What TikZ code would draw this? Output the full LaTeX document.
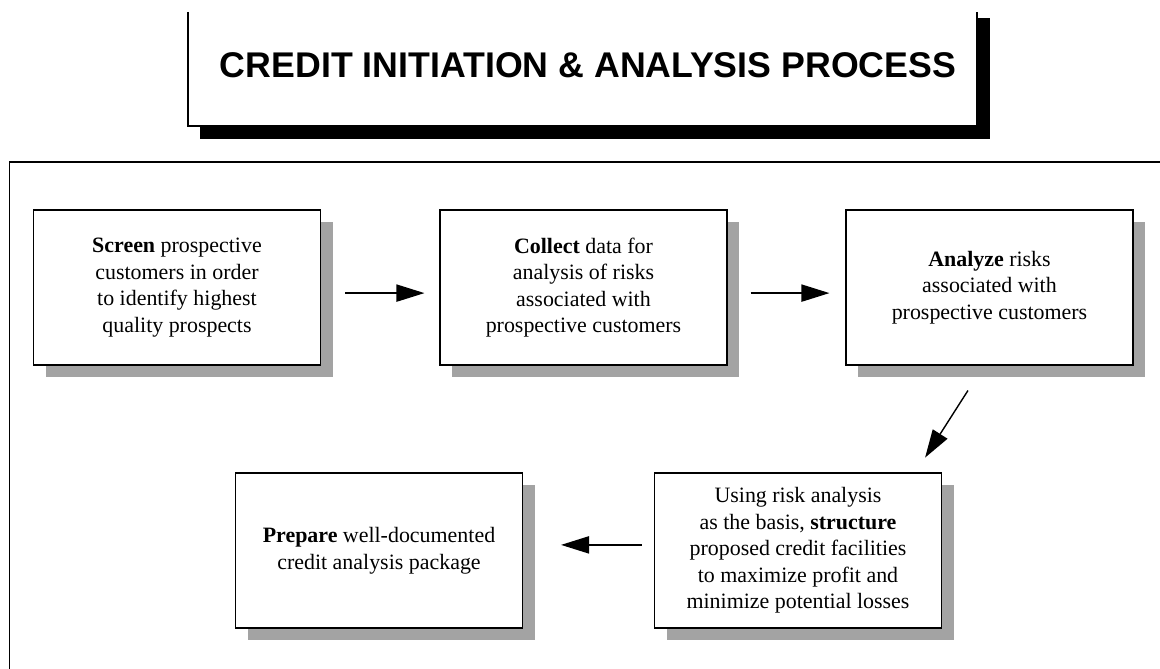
\documentclass[tikz,border=0pt]{standalone}
\usepackage{fontspec}
\setmainfont{Liberation Serif}
\newfontfamily\headfont{Liberation Sans}
\usetikzlibrary{arrows.meta,shadows}
\definecolor{shadowgray}{RGB}{163,163,163}

\begin{document}
\begin{tikzpicture}[
  procbox/.style={draw, line width=0.8pt, fill=white,
    minimum width=7.175cm, minimum height=3.875cm, align=center,
    font=\fontsize{15.6}{18.9}\selectfont,
    general shadow={fill=shadowgray, shadow xshift=0.3cm, shadow yshift=-0.3cm}},
  flow/.style={line width=1pt, -{Triangle[length=7mm,width=4.3mm]}}
]
\useasboundingbox (0,0) rectangle (29,16.7);

% frame round the steps
\draw[line width=1pt] (0.2375,-0.2) -- (0.2375,12.65) -- (29.2,12.65);

% title plate with its black shadow
\fill[black] (5.0,13.225) rectangle (24.75,16.25);
\draw[fill=white, line width=0.8pt] (4.7,16.4) -- (4.7,13.55) -- (24.425,13.55) -- (24.425,16.4);
\node[font=\headfont\bfseries\fontsize{25.4}{30}\selectfont] (title) at (14.7,15.075) {CREDIT INITIATION \& ANALYSIS PROCESS};

% first row
\node[procbox] (screen) at (4.425,9.5125) {\textbf{Screen} prospective\\customers in order\\to identify highest\\quality prospects};
\node[procbox] (collect) at (14.5875,9.5125) {\textbf{Collect} data for\\analysis of risks\\associated with\\prospective customers};
\node[procbox] (analyze) at (24.7375,9.5125) {\textbf{Analyze} risks\\associated with\\prospective customers};

% second row
\node[procbox] (structure) at (19.95,2.9375) {Using risk analysis\\as the basis, \textbf{structure}\\proposed credit facilities\\to maximize profit and\\minimize potential losses};
\node[procbox] (prepare) at (9.475,2.9375) {\textbf{Prepare} well-documented\\credit analysis package};

\draw[flow, shorten <=0.6cm, shorten >=0.375cm] ([yshift=-0.14cm]screen.east) -- ([yshift=-0.14cm]collect.west);
\draw[flow, shorten <=0.575cm, shorten >=0.4cm] ([yshift=-0.14cm]collect.east) -- ([yshift=-0.14cm]analyze.west);
\draw[flow, shorten <=0.74cm, shorten >=0.44cm] ([xshift=-0.14cm]analyze.south) -- ([xshift=2.94cm]structure.north);
\draw[flow, shorten <=0.3cm, shorten >=0.95cm] ([yshift=0.14cm]structure.west) -- ([yshift=0.14cm]prepare.east);

\end{tikzpicture}
\end{document}
